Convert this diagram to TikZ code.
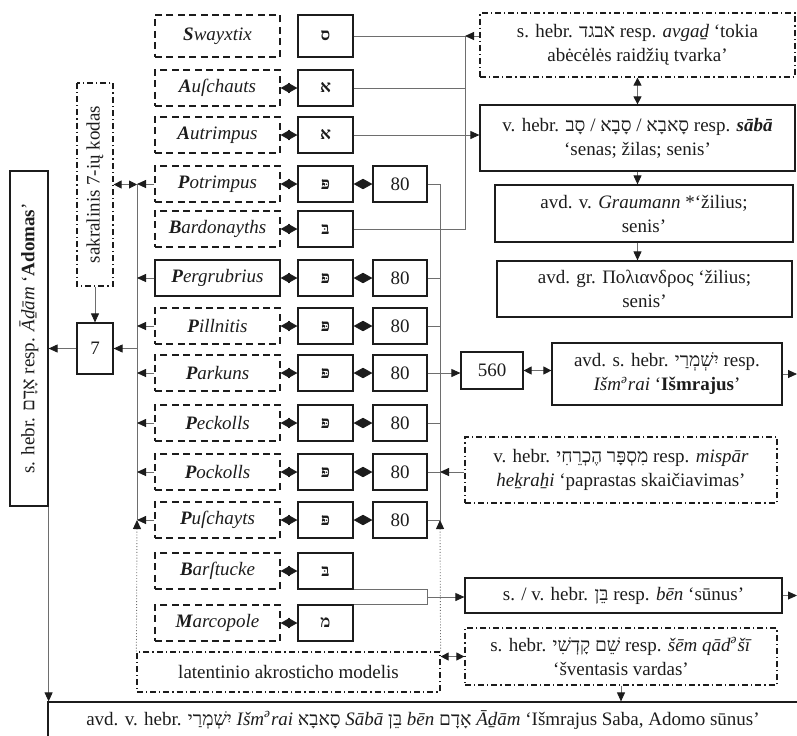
\documentclass[tikz,border=0pt]{standalone}
\usepackage{fontspec}
\setmainfont{Liberation Serif}
\newfontfamily\hebfont[Script=Hebrew]{Liberation Serif}
\TeXXeTstate=1
\usetikzlibrary{arrows.meta, calc}
\definecolor{ink}{HTML}{1C1C1C}
\definecolor{wire}{HTML}{6E6E6E}
\newcommand{\heb}[1]{{\hebfont\beginR #1\endR}}
\newcommand{\shva}{\textsuperscript{ə}}
\newcommand{\pn}[2]{\textbf{#1}#2}
\tikzset{
  bx/.style={draw=ink, line width=0.6pt, align=center, inner sep=2pt,
    text=ink, font=\fontsize{9.5}{12}\selectfont},
  bxdash/.style={bx, dash pattern=on 3.5pt off 2.2pt},
  bxdot/.style={bx, dash pattern=on 3pt off 1.5pt on 0.6pt off 1.5pt},
  godbx/.style={bxdash, minimum width=62.5pt, minimum height=18pt,
    font=\fontsize{9.5}{12}\selectfont\itshape},
  letbx/.style={bx, minimum width=27.5pt, minimum height=18pt,
    font=\fontsize{8.5}{9}\selectfont\bfseries\hebfont},
  numbx/.style={bx, minimum width=27pt, minimum height=18pt},
  wire/.style={draw=wire, line width=0.45pt},
  arr/.style={wire, -{Triangle[length=4.5pt, width=4pt, color=ink]}},
  dbl/.style={wire, {Triangle[length=4pt, width=4pt, color=ink]}-{Triangle[length=4pt, width=4pt, color=ink]}},
  dia/.style={wire, {Triangle[length=4.6pt, width=5pt, color=ink]}-{Triangle[length=4.6pt, width=5pt, color=ink]}},
  dotarr/.style={arr, densely dotted},
}
\begin{document}
\begin{tikzpicture}[x=0.5pt, y=-0.5pt]
  \useasboundingbox (0,0) rectangle (797,735);
  \clip (0,0) rectangle (797,735);
  % god names
  \node[godbx, minimum height=21pt] (n1) at (217.5,36) {\pn{S}{wayxtix}};
  \node[godbx] (n2) at (217.5,88) {\pn{A}{uſchauts}};
  \node[godbx] (n3) at (217.5,135) {\pn{A}{utrimpus}};
  \node[godbx] (n4) at (217.5,184) {\pn{P}{otrimpus}};
  \node[godbx] (n5) at (217.5,229) {\pn{B}{ardonayths}};
  \node[godbx, solid] (n6) at (217.5,278) {\pn{P}{ergrubrius}};
  \node[godbx] (n7) at (217.5,326) {\pn{P}{illnitis}};
  \node[godbx] (n8) at (217.5,373) {\pn{P}{arkuns}};
  \node[godbx] (n9) at (217.5,423) {\pn{P}{eckolls}};
  \node[godbx] (n10) at (217.5,472) {\pn{P}{ockolls}};
  \node[godbx] (n11) at (217.5,520) {\pn{P}{uſchayts}};
  \node[godbx] (n12) at (217.5,571) {\pn{B}{arſtucke}};
  \node[godbx] (n13) at (217.5,623) {\pn{M}{arcopole}};
  % initial letters
  \node[letbx, minimum height=21pt] (l1) at (325.5,36) {\heb{ס}};
  \node[letbx] (l2) at (325.5,88) {\heb{א}};
  \node[letbx] (l3) at (325.5,135) {\heb{א}};
  \node[letbx] (l4) at (325.5,184) {\heb{פּ}};
  \node[letbx] (l5) at (325.5,229) {\heb{בּ}};
  \node[letbx] (l6) at (325.5,278) {\heb{פּ}};
  \node[letbx] (l7) at (325.5,326) {\heb{פּ}};
  \node[letbx] (l8) at (325.5,373) {\heb{פּ}};
  \node[letbx] (l9) at (325.5,423) {\heb{פּ}};
  \node[letbx] (l10) at (325.5,472) {\heb{פּ}};
  \node[letbx] (l11) at (325.5,520) {\heb{פּ}};
  \node[letbx] (l12) at (325.5,571) {\heb{בּ}};
  \node[letbx] (l13) at (325.5,623) {\heb{מ}};
  % values
  \node[numbx] (e4) at (400,184) {80};
  \node[numbx] (e6) at (400,278) {80};
  \node[numbx] (e7) at (400,326) {80};
  \node[numbx] (e8) at (400,373) {80};
  \node[numbx] (e9) at (400,423) {80};
  \node[numbx] (e10) at (400,472) {80};
  \node[numbx] (e11) at (400,520) {80};
  % left side
  \node[bx, rotate=90, minimum width=167.5pt, minimum height=19pt] (adam) at (29,338.5) {s. hebr. \heb{אָדָם} resp. \textit{Āḏām} ‘\textbf{Adomas}’};
  \node[bxdot, rotate=90, minimum width=101.5pt, minimum height=18pt] (sak) at (95,184.5) {sakralinis 7-ių kodas};
  \node[numbx, minimum width=18pt, minimum height=25.5pt] (seven) at (95,348.5) {7};
  \node[bxdot, minimum width=151.5pt, minimum height=20pt] (lat) at (288.5,672) {latentinio akrosticho modelis};
  % right side
  \node[bxdot, minimum width=157.5pt, minimum height=32pt] (avgad) at (637.5,45) {s. hebr. \heb{אבגד} resp. \textit{avgaḏ} ‘tokia\\abėcėlės raidžių tvarka’};
  \node[bx, minimum width=157.5pt, minimum height=33pt] (saba) at (637.5,138) {v. hebr. \heb{סָאבָא / סָבָא / סָב} resp. \textbf{\textit{sābā}}\\‘senas; žilas; senis’};
  \node[bx, minimum width=149pt, minimum height=28.5pt] (grau) at (644,213.5) {avd. v. \textit{Graumann} *‘žilius;\\senis’};
  \node[bx, minimum width=147.5pt, minimum height=28pt] (poly) at (644.5,289) {avd. gr. Πολιανδρος ‘žilius;\\senis’};
  \node[numbx, minimum width=31pt, minimum height=18.5pt] (sum) at (492,370.5) {560};
  \node[bx, minimum width=115pt, minimum height=31pt] (ism) at (667,374) {avd. s. hebr. \heb{יִשְׁמְרַי} resp.\\\textit{Išm\shva rai} ‘\textbf{Išmrajus}’};
  \node[bxdot, minimum width=156pt, minimum height=33pt] (misp) at (621,470) {v. hebr. \heb{מִסְפָּר הֶכְרֵחִי} resp. \textit{mispār}\\\textit{heḵraẖi} ‘paprastas skaičiavimas’};
  \node[bx, minimum width=158.5pt, minimum height=17.5pt] (ben) at (623.5,595.5) {s. / v. hebr. \heb{בֵּן} resp. \textit{bēn} ‘sūnus’};
  \node[bxdot, minimum width=156pt, minimum height=28.5pt] (sem) at (621,656.5) {s. hebr. \heb{שֵׁם קָדְשִׁי} resp. \textit{šēm qād\shva šī}\\‘šventasis vardas’};
  \node[bx, minimum width=375pt, minimum height=18pt] (bot) at (423,720) {avd. v. hebr. \heb{יִשְׁמְרַי} \textit{Išm\shva rai} \heb{סָאבָא} \textit{Sābā} \heb{בֵּן} \textit{bēn} \heb{אָדָם} \textit{Āḏām} ‘Išmrajus Saba, Adomo sūnus’};
  % bus lines
  \coordinate (lb) at (137,0);
  \coordinate (rb) at (440,0);
  \coordinate (tb) at (465,0);
  \coordinate (edge) at (797,0);
  % name -> letter -> value
  \draw[dia] (n2.east) -- (l2.west);
  \draw[dia] (n3.east) -- (l3.west);
  \draw[dia] (n4.east) -- (l4.west);
  \draw[dia] (n5.east) -- (l5.west);
  \draw[dia] (n6.east) -- (l6.west);
  \draw[dia] (n7.east) -- (l7.west);
  \draw[dia] (n8.east) -- (l8.west);
  \draw[dia] (n9.east) -- (l9.west);
  \draw[dia] (n10.east) -- (l10.west);
  \draw[dia] (n11.east) -- (l11.west);
  \draw[dia] (n12.east) -- (l12.west);
  \draw[dia] (n13.east) -- (l13.west);
  \draw[dia] (l4.east) -- (e4.west);
  \draw[dia] (l6.east) -- (e6.west);
  \draw[dia] (l7.east) -- (e7.west);
  \draw[dia] (l8.east) -- (e8.west);
  \draw[dia] (l9.east) -- (e9.west);
  \draw[dia] (l10.east) -- (e10.west);
  \draw[dia] (l11.east) -- (e11.west);
  % left bus
  \draw[wire] (n4.west -| lb) -- (n11.west -| lb);
  \draw[arr] (n4.west) -- (n4.west -| lb);
  \draw[arr] (n6.west) -- (n6.west -| lb);
  \draw[arr] (n7.west) -- (n7.west -| lb);
  \draw[arr] (n8.west) -- (n8.west -| lb);
  \draw[arr] (n9.west) -- (n9.west -| lb);
  \draw[arr] (n10.west) -- (n10.west -| lb);
  \draw[arr] (n11.west) -- (n11.west -| lb);
  \draw[dbl] (sak.south) -- (sak.south -| lb);
  \draw[arr] (sak.west) -- (seven.north);
  \draw[arr] (seven.east -| lb) -- (seven.east);
  \draw[arr] (seven.west) -- (seven.west -| adam.south);
  \draw[arr] (adam.south west) -- (adam.south west |- bot.north);
  \draw[dotarr] (lat.north west) -- (n11.west -| lb);
  \draw[dotarr] (lat.north east) -- (e11.east -| rb);
  \draw[dbl] (sem.west -| lat.east) -- (sem.west);
  % top bus
  \draw[wire] (l1.east) -- (l1.east -| tb) -- (l5.east -| tb) -- (l5.east);
  \draw[wire] (l2.east) -- (l2.east -| tb);
  \draw[arr] (l3.east) -- (l3.east -| saba.west);
  \draw[arr] (l1.east -| avgad.west) -- (l1.east -| tb);
  % right bus
  \draw[wire] (e4.east) -- (e4.east -| rb) -- (e11.east -| rb) -- (e11.east);
  \draw[wire] (e6.east) -- (e6.east -| rb);
  \draw[wire] (e7.east) -- (e7.east -| rb);
  \draw[wire] (e9.east) -- (e9.east -| rb);
  \draw[wire] (e10.east) -- (e10.east -| rb);
  \draw[arr] (e8.east) -- (e8.east -| sum.west);
  \draw[arr] (e10.east -| misp.west) -- (e10.east -| rb);
  % b + m bracket
  \draw[wire] (l12.south east) -- (l12.south east -| e11.east) -- (l13.north east -| e11.east) -- (l13.north east);
  \coordinate (brk) at ($(l12.south east -| e11.east)!0.5!(l13.north east -| e11.east)$);
  \draw[arr] (brk) -- (brk -| ben.west);
  % right column
  \draw[dbl] (avgad.south) -- (saba.north);
  \draw[arr] (saba.south) -- (saba.south |- grau.north);
  \draw[arr] (grau.south -| saba.south) -- (saba.south |- poly.north);
  \draw[dbl] (sum.east) -- (sum.east -| ism.west);
  \draw[arr] (ism.east) -- (ism.east -| edge);
  \draw[arr] (ben.east) -- (ben.east -| edge);
  \draw[arr] (sem.south) -- (sem.south |- bot.north);
\end{tikzpicture}
\end{document}
